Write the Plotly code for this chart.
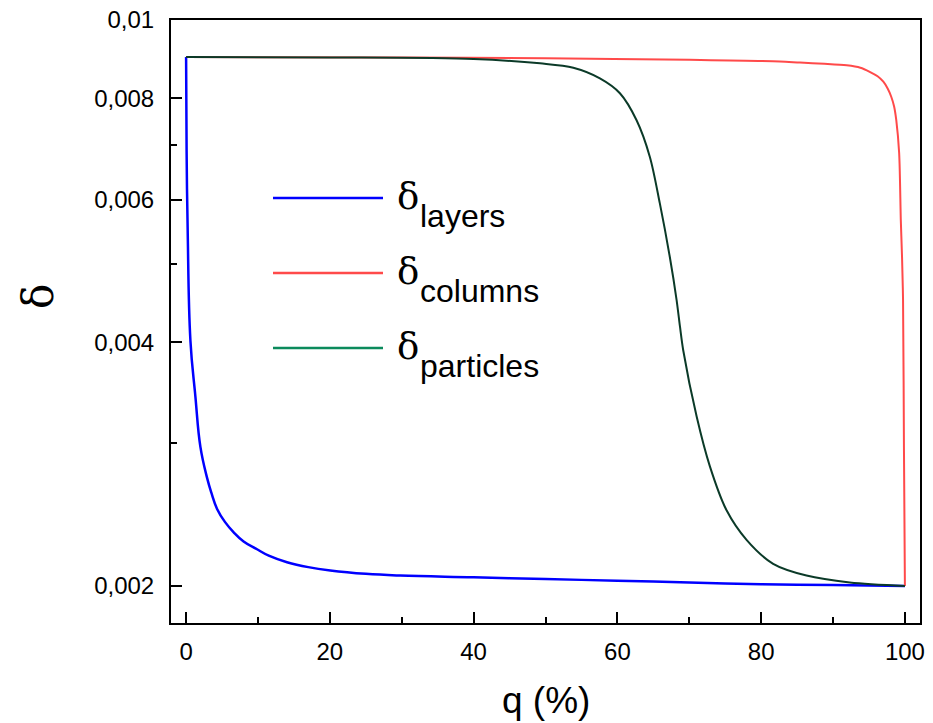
import plotly.graph_objects as go

# ---- data ----
q_layers = [0, 0.07, 0.22, 0.6, 1.29, 1.99, 2.92, 3.5, 4.31, 5.4, 6.62, 8.0, 9.87, 11.5, 14.04, 17.0,
            20.06, 25.0, 29.78, 40, 50, 60, 70, 80, 90, 100]
d_layers = [0.009, 0.0069, 0.0055, 0.00402, 0.00343, 0.00297, 0.00272, 0.00261, 0.00249, 0.0024, 0.00233,
            0.00227, 0.00222, 0.00218, 0.00214, 0.00211, 0.00209, 0.00207, 0.00206, 0.00205, 0.00204,
            0.00203, 0.00202, 0.00201, 0.002005, 0.002]

q_columns = [0, 30, 50, 70, 82.6, 85.4, 88.8, 91.9, 93.8, 95.1, 96.2, 97.0, 97.6, 98.1, 98.5, 98.8,
             99.2, 99.43, 99.6, 99.74, 99.87, 100]
d_columns = [0.009, 0.00899, 0.00897, 0.00893, 0.00889, 0.00886, 0.00883, 0.00879, 0.00873, 0.00863,
             0.00852, 0.00839, 0.00823, 0.00804, 0.00782, 0.00752, 0.00685, 0.00566, 0.0051, 0.00451,
             0.00294, 0.002]

q_particles = [0, 20, 40, 49.24, 53.87, 57.57, 60.35, 62.67, 64.51, 65.9, 67.29, 68.24, 68.71, 69.16,
               71.02, 72.87, 75.19, 77.97, 81.67, 86.31, 92.33, 100]
d_particles = [0.009, 0.00899, 0.00895, 0.00884, 0.00873, 0.00847, 0.00812, 0.00752, 0.00678, 0.00594,
               0.0051, 0.00451, 0.00418, 0.00391, 0.00324, 0.00281, 0.00248, 0.00228, 0.00213, 0.00206,
               0.00202, 0.002]

y_tickvals = [0.002, 0.004, 0.006, 0.008, 0.01]
y_ticktext = ["0,002", "0,004", "0,006", "0,008", "0,01"]
y_minorvals = [0.003, 0.005, 0.007]
x_tickvals = [0, 20, 40, 60, 80, 100]
x_minorvals = [10, 30, 50, 70, 90]

legend_names = ["layers", "columns", "particles"]
legend_colors = ["#0000ff", "#ff4a4a", "#0b8a5c"]

# ---- figure ----
W, H = 933, 723
ML, MR, MT, MB = 171, 13, 20, 100
PW, PH = W - ML - MR, H - MT - MB


def px(x):
    return (x - ML) / PW


def py(y):
    return (H - MB - y) / PH


fig = go.Figure()
fig.add_trace(go.Scatter(x=q_layers, y=d_layers, mode="lines",
                         line=dict(color="#0000ff", width=2.5, shape="spline", smoothing=1.2),
                         showlegend=False))
fig.add_trace(go.Scatter(x=q_columns, y=d_columns, mode="lines",
                         line=dict(color="#ff4a4a", width=2, shape="spline", smoothing=0.8),
                         showlegend=False))
fig.add_trace(go.Scatter(x=q_particles, y=d_particles, mode="lines",
                         line=dict(color="#0b3a28", width=2, shape="spline", smoothing=0.9),
                         showlegend=False))

font_sans = "Liberation Sans, Arial, sans-serif"
font_serif = "DejaVu Serif, Liberation Serif, serif"

fig.update_xaxes(range=[-2.1, 102.1], tickmode="array", tickvals=x_tickvals, automargin=False,
                 ticks="inside", ticklen=11, tickwidth=2, tickcolor="black",
                 minor=dict(tickmode="array", tickvals=x_minorvals, ticks="inside",
                            ticklen=6, tickwidth=2, tickcolor="black"),
                 showline=True, linewidth=2, linecolor="black", mirror=True,
                 showgrid=False, zeroline=False,
                 tickfont=dict(family=font_sans, size=24, color="black"),
                 ticklabelstandoff=6)
fig.update_yaxes(type="log", range=[-2.7447, -2], tickmode="array", automargin=False,
                 tickvals=y_tickvals, ticktext=y_ticktext,
                 ticks="inside", ticklen=11, tickwidth=2, tickcolor="black",
                 minor=dict(tickmode="array", tickvals=y_minorvals, ticks="inside",
                            ticklen=6, tickwidth=2, tickcolor="black"),
                 showline=True, linewidth=2, linecolor="black", mirror=True,
                 showgrid=False, zeroline=False,
                 tickfont=dict(family=font_sans, size=24, color="black"),
                 ticklabelstandoff=10)

shapes = []
annotations = []
for i, (name, col) in enumerate(zip(legend_names, legend_colors)):
    yl = 198 + 75 * i
    shapes.append(dict(type="line", xref="paper", yref="paper",
                       x0=px(273), x1=px(383), y0=py(yl), y1=py(yl),
                       line=dict(color=col, width=2.5)))
    annotations.append(dict(xref="paper", yref="paper", x=px(395), y=py(yl - 2),
                            xanchor="left", yanchor="middle", showarrow=False,
                            text="δ", font=dict(family=font_serif, size=37, color="black")))
    annotations.append(dict(xref="paper", yref="paper", x=px(418), y=py(yl + 18),
                            xanchor="left", yanchor="middle", showarrow=False,
                            text=name, font=dict(family=font_sans, size=32, color="black")))

annotations.append(dict(xref="paper", yref="paper", x=px(38), y=py(297),
                        xanchor="center", yanchor="middle", showarrow=False, textangle=-90,
                        text="δ", font=dict(family=font_serif, size=42, color="black")))
annotations.append(dict(xref="paper", yref="paper", x=px(545.5), y=py(700),
                        xanchor="center", yanchor="middle", showarrow=False,
                        text="q (%)", font=dict(family=font_sans, size=37, color="black")))

fig.update_layout(width=W, height=H, margin=dict(l=ML, r=MR, t=MT, b=MB, autoexpand=False),
                  paper_bgcolor="white", plot_bgcolor="white",
                  shapes=shapes, annotations=annotations, showlegend=False)

fig.write_html("out.html")
